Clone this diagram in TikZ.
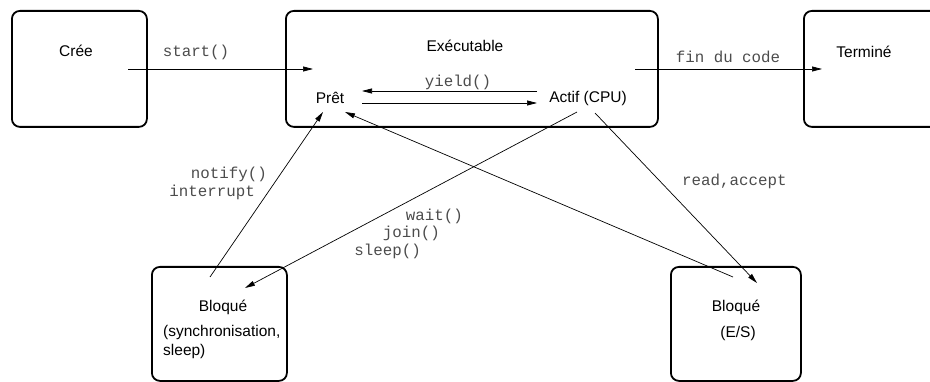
\documentclass[tikz,border=0pt]{standalone}
\usepackage{fontspec}
\setmainfont{Liberation Sans}
\setmonofont{Liberation Mono}
\usetikzlibrary{arrows.meta}
\begin{document}
\begin{tikzpicture}[x=1pt,y=-1pt,
  box/.style={draw, line width=1.8pt, rounded corners=8pt, anchor=north west, inner sep=0},
  lbl/.style={font=\fontsize{15.5}{18}\selectfont, inner sep=0},
  code/.style={font=\fontsize{15.8}{18}\selectfont\ttfamily, inner sep=0, text=black!70},
  arr/.style={line width=0.7pt, -{Triangle[length=10pt,width=5pt]}}]
\clip (0,0) rectangle (930,382);
% boxes
\node[box, minimum width=135, minimum height=116] (cree) at (11,10) {};
\node[box, minimum width=372, minimum height=116] (exec) at (285,10) {};
\node[box, minimum width=150, minimum height=116] (term) at (803,10) {};
\node[box, minimum width=135, minimum height=114] (bloqL) at (151,266) {};
\node[box, minimum width=130, minimum height=114] (bloqR) at (670,266) {};
% texts
\node[lbl] (tcree) at (76,51) {Crée};
\node[lbl] (texec) at (465,46) {Exécutable};
\node[lbl] (pret) at (330,98) {Prêt};
\node[lbl] (actif) at (588,98) {Actif (CPU)};
\node[lbl] (tterm) at (864,52) {Terminé};
\node[lbl] (tbl) at (223,307) {Bloqué};
\node[lbl, anchor=west] (tsync) at (163,332) {(synchronisation,};
\node[lbl, anchor=west] (tsleep) at (163,351) {sleep)};
\node[lbl] (tbr) at (736,307) {Bloqué};
\node[lbl] (tes) at (738,333) {(E/S)};
% code labels
\node[code] (lstart) at (196,52) {start()};
\node[code] (lfin) at (728,57) {fin du code};
\node[code] (lyield) at (458,82) {yield()};
\node[code, anchor=east] (lnotify) at (267,174) {notify()};
\node[code, anchor=east] (linter) at (255,192) {interrupt};
\node[code, anchor=east] (lwait) at (463,216) {wait()};
\node[code, anchor=east] (ljoin) at (440,233) {join()};
\node[code, anchor=east] (lsleep) at (421,251) {sleep()};
\node[code, anchor=west] (lread) at (682,181) {read,accept};
% connector endpoints
\coordinate (s1) at (128,69); \coordinate (s2) at (313,69);
\coordinate (f1) at (635,69); \coordinate (f2) at (822,69);
\coordinate (y1) at (537,91); \coordinate (y2) at (362,91);
\coordinate (r1) at (362,103); \coordinate (r2) at (537,103);
\coordinate (n1) at (210,277); \coordinate (n2) at (323,112);
\coordinate (w1) at (577,112); \coordinate (w2) at (245,288);
\coordinate (e1) at (733,277); \coordinate (e2) at (345,112);
\coordinate (a1) at (595,113); \coordinate (a2) at (757,283);
% connectors
\draw[arr] (s1) -- (s2);
\draw[arr] (f1) -- (f2);
\draw[arr] (y1) -- (y2);
\draw[arr] (r1) -- (r2);
\draw[arr] (n1) -- (n2);
\draw[arr] (w1) -- (w2);
\draw[arr] (e1) -- (e2);
\draw[arr] (a1) -- (a2);
\end{tikzpicture}
\end{document}
